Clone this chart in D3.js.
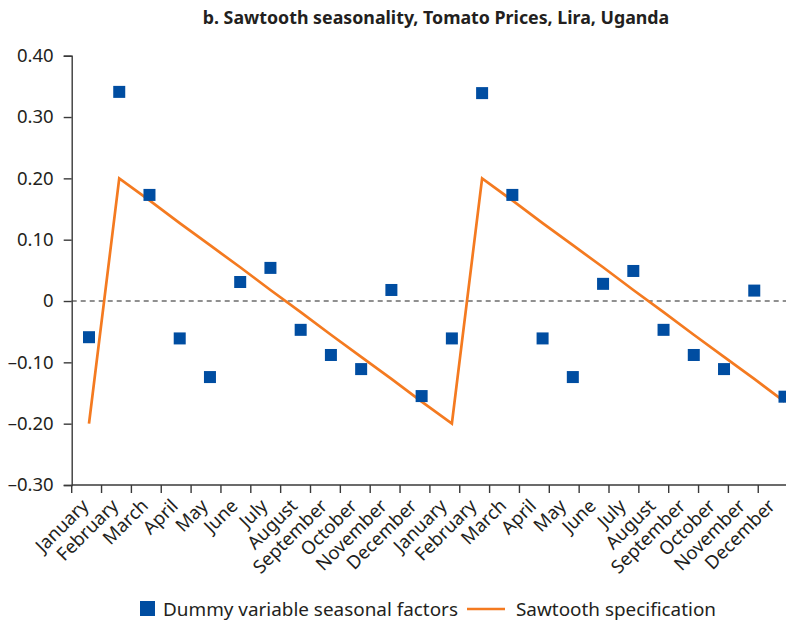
<!DOCTYPE html>
<html>
<head>
<meta charset="utf-8">
<script src="https://cdn.jsdelivr.net/npm/d3@7"></script>
<style>
  html, body { margin: 0; padding: 0; background: #fff; }
  svg { display: block; }
  text { font-family: "Noto Sans", "Open Sans", sans-serif; fill: #231f20; }
</style>
</head>
<body>
<svg id="chart" width="786" height="624"></svg>
<script>
// Month labels along the category axis (two years)
const months = [
  "January", "February", "March", "April", "May", "June",
  "July", "August", "September", "October", "November", "December",
  "January", "February", "March", "April", "May", "June",
  "July", "August", "September", "October", "November", "December"
];

// Seasonal factors estimated with monthly dummy variables
const dummyFactors = [
  -0.059, 0.341, 0.173, -0.061, -0.124, 0.031, 0.054, -0.047, -0.088, -0.111, 0.018, -0.155,
  -0.061, 0.339, 0.173, -0.061, -0.124, 0.028, 0.049, -0.047, -0.088, -0.111, 0.017, -0.156
];

// Sawtooth specification: peak in February, steady decline to January
const sawtooth = [
  -0.200, 0.200, 0.164, 0.127, 0.091, 0.055, 0.018, -0.018, -0.055, -0.091, -0.127, -0.164,
  -0.200, 0.200, 0.164, 0.127, 0.091, 0.055, 0.018, -0.018, -0.055, -0.091, -0.127, -0.164
];

const yTicks = [-0.30, -0.20, -0.10, 0, 0.10, 0.20, 0.30, 0.40];
const yTickLabels = ["\u20130.30", "\u20130.20", "\u20130.10", "0", "0.10", "0.20", "0.30", "0.40"];

const title = "b. Sawtooth seasonality, Tomato Prices, Lira, Uganda";
const legendLabels = ["Dummy variable seasonal factors", "Sawtooth specification"];

const blue = "#004da1";
const orange = "#f47a20";
const axisColor = "#3a3a3a";

const svg = d3.select("#chart");

const plotLeft = 71.7, plotTop = 55.7, plotBottom = 485;
const idx = d3.range(months.length);

// Category bands for the axis ticks and labels
const xBand = d3.scaleBand().domain(idx).range([plotLeft, plotLeft + 24 * 29.85]).paddingInner(0).paddingOuter(0);
// Positions of the plotted marks
const xPos = d3.scaleLinear().domain([0, 23]).range([89, 784.5]);
const y = d3.scaleLinear().domain([-0.30, 0.40]).range([plotBottom, plotTop]);

// Title
svg.append("text")
  .attr("x", 436).attr("y", 24)
  .attr("text-anchor", "middle")
  .style("font-weight", "bold")
  .style("font-size", "17.8px")
  .text(title);

// Zero reference line
svg.append("line")
  .attr("x1", plotLeft).attr("x2", 786)
  .attr("y1", y(0)).attr("y2", y(0))
  .attr("stroke", "#222").attr("stroke-width", 1.1)
  .attr("stroke-dasharray", "5,4");

// Y axis
const yAxis = d3.axisLeft(y)
  .tickValues(yTicks)
  .tickSize(8)
  .tickPadding(10)
  .tickFormat((d, i) => yTickLabels[i]);
const gy = svg.append("g").attr("transform", `translate(${plotLeft},0)`).call(yAxis);
gy.select(".domain").attr("stroke", axisColor).attr("stroke-width", 1.4);
gy.selectAll(".tick line").attr("stroke", axisColor).attr("stroke-width", 1.4);
gy.selectAll(".tick text").style("font-size", "18.5px").attr("fill", "#231f20")
  .style("font-family", "\"Noto Sans\", sans-serif");

// X axis: ticks at band boundaries
const tickPositions = d3.range(25).map(i => plotLeft + i * xBand.bandwidth());
const gx = svg.append("g");
gx.append("line")
  .attr("x1", plotLeft).attr("x2", 790)
  .attr("y1", plotBottom).attr("y2", plotBottom)
  .attr("stroke", axisColor).attr("stroke-width", 1.4);
gx.selectAll("line.tick")
  .data(tickPositions)
  .join("line")
  .attr("class", "tick")
  .attr("x1", d => d).attr("x2", d => d)
  .attr("y1", plotBottom).attr("y2", plotBottom + 8)
  .attr("stroke", axisColor).attr("stroke-width", 1.4);
gx.selectAll("text")
  .data(idx)
  .join("text")
  .attr("text-anchor", "end")
  .attr("transform", i => `translate(${xBand(i) + xBand.bandwidth() / 2 + 3},${plotBottom + 22}) rotate(-45)`)
  .style("font-size", "18.5px")
  .text(i => months[i]);

// Sawtooth line
const line = d3.line().x((d, i) => xPos(i)).y(d => y(d));
svg.append("path")
  .datum(sawtooth)
  .attr("d", line)
  .attr("fill", "none")
  .attr("stroke", orange)
  .attr("stroke-width", 2.7)
  .attr("stroke-linejoin", "miter");

// Dummy variable seasonal factors
const sq = 12;
svg.append("g").selectAll("rect")
  .data(dummyFactors)
  .join("rect")
  .attr("x", (d, i) => xPos(i) - sq / 2)
  .attr("y", d => y(d) - sq / 2)
  .attr("width", sq).attr("height", sq)
  .attr("fill", blue);

// Legend
const lg = svg.append("g");
lg.append("rect").attr("x", 140).attr("y", 601).attr("width", 15).attr("height", 15).attr("fill", blue);
lg.append("text").attr("x", 163).attr("y", 616).style("font-size", "18.9px").text(legendLabels[0]);
lg.append("line").attr("x1", 467).attr("x2", 505).attr("y1", 609).attr("y2", 609)
  .attr("stroke", orange).attr("stroke-width", 2.7);
lg.append("text").attr("x", 516).attr("y", 616).style("font-size", "18.9px").text(legendLabels[1]);
</script>
</body>
</html>
